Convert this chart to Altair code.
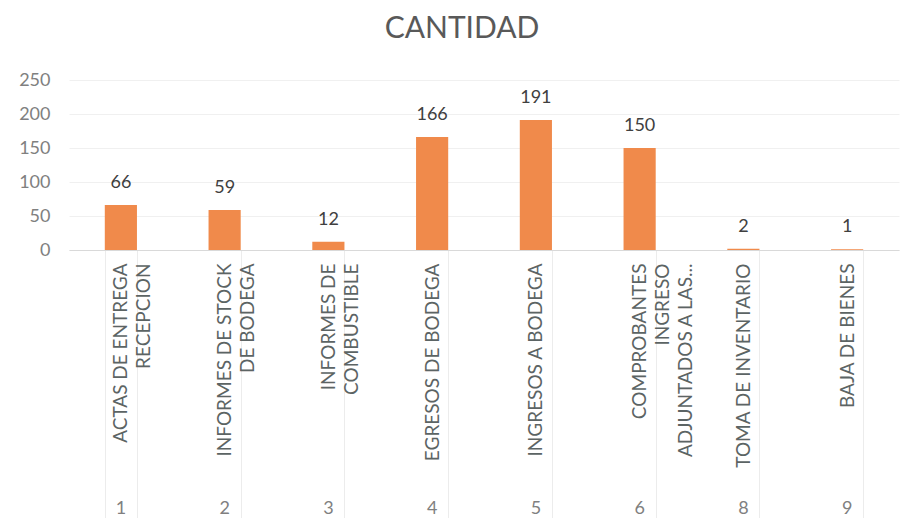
import altair as alt
import pandas as pd

nums = ["1", "2", "3", "4", "5", "6", "8", "9"]
names = [
    "ACTAS DE ENTREGA|RECEPCION",
    "INFORMES DE STOCK|DE BODEGA",
    "INFORMES DE|COMBUSTIBLE",
    "EGRESOS DE  BODEGA",
    "INGRESOS A  BODEGA",
    "COMPROBANTES|INGRESO|ADJUNTADOS A LAS...",
    "TOMA DE INVENTARIO",
    "BAJA DE BIENES",
]
values = [66, 59, 12, 166, 191, 150, 2, 1]
y_ticks = [0, 50, 100, 150, 200, 250]

ORANGE = "#F08A4B"
FONT = "Lato"

df = pd.DataFrame({"num": nums, "name": names, "value": values})

names_arr = "[" + ",".join("'" + n + "'" for n in names) + "]"
nums_arr = "[" + ",".join("'" + n + "'" for n in nums) + "]"
idx = f"indexof({nums_arr}, datum.value)"
name_expr = f"{idx} < 0 ? '' : split({names_arr}[{idx}], '|')"

x_scale = alt.Scale(paddingInner=0.69, paddingOuter=0.345)
y_scale = alt.Scale(domain=[0, 250])

names_axis = alt.Axis(
    orient="bottom",
    title=None,
    labelExpr=name_expr,
    labelAngle=-90,
    labelAlign="right",
    labelBaseline="middle",
    labelPadding=-257,
    labelFont=FONT,
    labelFontSize=19,
    labelColor="#5c6464",
    labelLineHeight=23,
    labelLimit=400,
    labelOverlap=False,
    tickBand="extent",
    tickSize=270,
    tickColor="#ececec",
    domainColor="#d9d9d9",
)

num_axis = alt.Axis(
    orient="bottom",
    title=None,
    labelAngle=0,
    labelAlign="center",
    labelBaseline="top",
    labelPadding=249,
    labelFont=FONT,
    labelFontSize=18,
    labelColor="#808080",
    ticks=False,
    domain=False,
)

y_axis = alt.Axis(
    title=None,
    values=y_ticks,
    ticks=False,
    domain=False,
    labelPadding=19,
    labelFont=FONT,
    labelFontSize=18,
    labelColor="#808080",
    labelOverlap=False,
    gridColor="#f0f0f0",
)

bars = alt.Chart(df).mark_bar(color=ORANGE).encode(
    x=alt.X("num:N", sort=nums, scale=x_scale, axis=names_axis),
    y=alt.Y("value:Q", scale=y_scale, axis=y_axis),
)

labels = alt.Chart(df).mark_text(
    baseline="alphabetic", dy=-17, font=FONT, fontSize=18, color="#404040"
).encode(
    x=alt.X("num:N", sort=nums, scale=x_scale, axis=num_axis),
    y=alt.Y("value:Q", scale=y_scale, axis=y_axis),
    text=alt.Text("value:Q"),
)

chart = (
    alt.layer(bars, labels)
    .resolve_axis(x="independent")
    .properties(
        width=830,
        height=170,
        autosize="none",
        padding={"left": 61, "top": 72, "right": 11, "bottom": 268},
        title=alt.TitleParams(
            "CANTIDAD",
            font=FONT,
            fontSize=30,
            fontWeight="normal",
            color="#595959",
            anchor="middle",
            frame="group",
            dx=-22,
            offset=27,
        ),
    )
    .configure_view(stroke=None)
)

chart.save("out.html", embed_options={"renderer": "svg", "actions": False})
